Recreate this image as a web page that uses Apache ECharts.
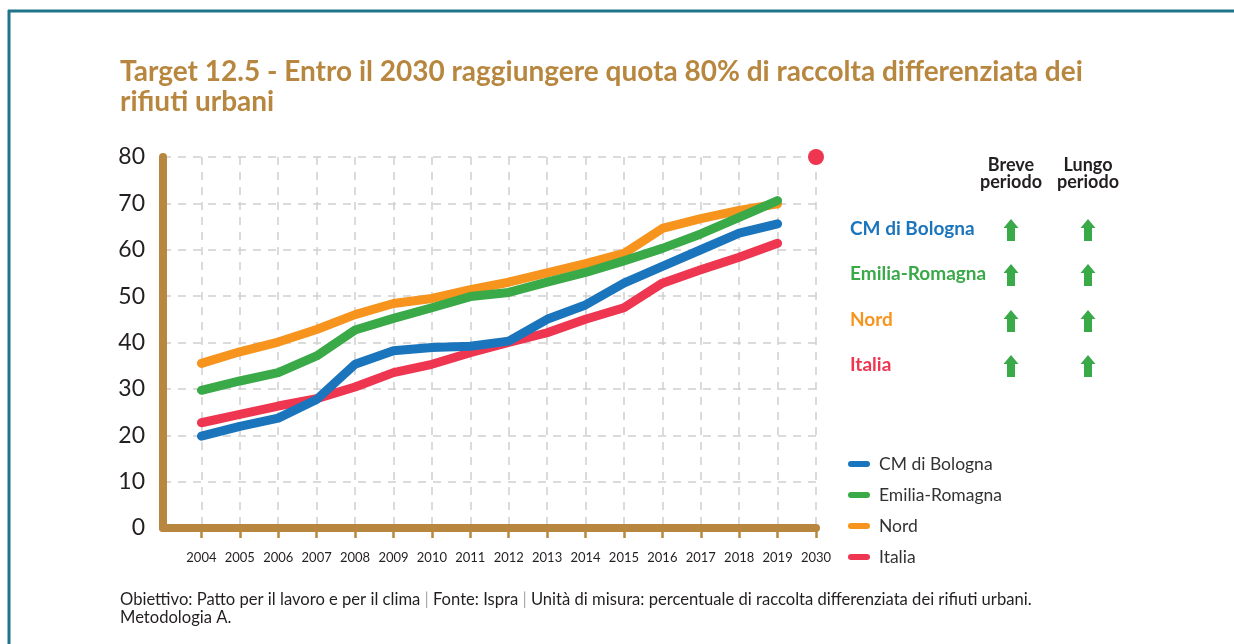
<!DOCTYPE html>
<html>
<head>
<meta charset="utf-8">
<script src="https://cdn.jsdelivr.net/npm/echarts@6/dist/echarts.min.js"></script>
<style>
html,body{margin:0;padding:0;background:#fff;}
#chart{width:1234px;height:644px;}
</style>
</head>
<body>
<div id="chart"></div>
<script>
// ---- data ----
const years = ['2004','2005','2006','2007','2008','2009','2010','2011','2012','2013','2014','2015','2016','2017','2018','2019','2030'];
const yTicks = [0,10,20,30,40,50,60,70,80];
const seriesNames = ['CM di Bologna','Emilia-Romagna','Nord','Italia'];
const bologna = [19.8,21.9,23.7,27.7,35.3,38.2,38.9,39.2,40.3,45.0,48.1,52.8,56.4,60.0,63.6,65.6];
const emilia  = [29.7,31.7,33.5,37.1,42.7,45.2,47.5,49.9,50.8,53.0,55.1,57.6,60.3,63.4,67.0,70.6];
const nord    = [35.5,38.0,40.1,42.8,46.0,48.4,49.5,51.4,53.0,55.0,57.0,59.2,64.6,66.7,68.5,69.9];
const italia  = [22.7,24.5,26.3,27.9,30.4,33.5,35.3,37.8,40.0,42.1,45.0,47.5,52.8,55.7,58.4,61.4];
const targetYear = '2030';
const targetValue = 80;
const shortTerm = ['up','up','up','up'];
const longTerm  = ['up','up','up','up'];
const titleText = 'Target 12.5 - Entro il 2030 raggiungere quota 80% di raccolta differenziata dei\nrifiuti urbani';
const footerParts = ['Obiettivo: Patto per il lavoro e per il clima ', ' Fonte: Ispra ', ' Unità di misura: percentuale di raccolta differenziata dei rifiuti urbani.'];
const footerLine2 = 'Metodologia A.';

// ---- styles ----
const colors = ['#1b75bc','#3aa948','#f7941d','#ee3650'];
const tan = '#b8873f';
const dark = '#231f20';
const FONT = 'Lato';

const cats = [''].concat(years);
function pad(arr){ const d=[null].concat(arr); while(d.length<cats.length) d.push(null); return d; }
const values = [bologna, emilia, nord, italia];
const lineSeries = [3,0,2,1].map(i => ({
  name: seriesNames[i], type:'line', data: pad(values[i]), showSymbol:false, symbol:'none',
  lineStyle:{color:colors[i], width:9, cap:'round', join:'round'},
  itemStyle:{color:colors[i]}, z: 3, silent:true
}));
const targetData = cats.map(c => c===targetYear ? targetValue : null);

const graphics = [];
// frame
graphics.push({type:'line', shape:{x1:8,y1:11,x2:1234,y2:11}, style:{stroke:'#1f7489', lineWidth:3}});
graphics.push({type:'line', shape:{x1:9,y1:10,x2:9,y2:644}, style:{stroke:'#1f7489', lineWidth:3}});
// table headers
graphics.push({type:'text', x:1011, y:157, style:{text:'Breve\nperiodo', font:'bold 18px '+FONT, fill:dark, align:'center', lineHeight:17}});
graphics.push({type:'text', x:1088, y:157, style:{text:'Lungo\nperiodo', font:'bold 18px '+FONT, fill:dark, align:'center', lineHeight:17}});
const rowY = [229,274,320,365];
function arrow(cx, cy){
  return {type:'polygon', shape:{points:[[cx,cy-11],[cx+7.5,cy-2],[cx+4,cy-2],[cx+4,cy+11],[cx-4,cy+11],[cx-4,cy-2],[cx-7.5,cy-2]]}, style:{fill:'#3aa948'}};
}
seriesNames.forEach((n,i) => {
  graphics.push({type:'text', x:850, y:rowY[i], style:{text:n, font:'bold 19px '+FONT, fill:colors[i], verticalAlign:'middle'}});
  if (shortTerm[i]==='up') graphics.push(arrow(1011, rowY[i]+1));
  if (longTerm[i]==='up') graphics.push(arrow(1088, rowY[i]+1));
});
// footer
graphics.push({type:'text', x:120, y:591, style:{
  text:'{t|'+footerParts[0]+'}{s||}{t|'+footerParts[1]+'}{s||}{t|'+footerParts[2]+'}\n{t|'+footerLine2+'}',
  rich:{t:{font:'16.6px '+FONT, fill:dark, lineHeight:18}, s:{font:'16.6px '+FONT, fill:'#aaaaaa', lineHeight:18}}
}});

const chart = echarts.init(document.getElementById('chart'), null, {renderer:'canvas'});
chart.setOption({
  backgroundColor:'#ffffff',
  animation:false,
  title:{text:titleText, left:120, top:57, padding:0, textStyle:{fontFamily:FONT, fontWeight:'bold', fontSize:28, lineHeight:30, color:'#b8873f'}},
  grid:{left:163, right:418, top:157, bottom:116, containLabel:false},
  legend:{
    data:seriesNames, orient:'vertical', left:848, top:455, padding:0, itemGap:13,
    itemWidth:22, itemHeight:6,
    icon:'path://M3,0 L19,0 A3,3 0 0 1 19,6 L3,6 A3,3 0 0 1 3,0 Z',
    textStyle:{fontFamily:FONT, fontSize:17.5, color:'#333', lineHeight:18, padding:[0,0,0,4]},
    selectedMode:false
  },
  xAxis:{
    type:'category', data:cats, boundaryGap:false,
    axisLine:{lineStyle:{color:tan, width:8, cap:'round'}},
    axisTick:{show:true, interval:(i)=>i>0, length:10, lineStyle:{color:tan, width:2.5}},
    axisLabel:{interval:(i)=>i>0, color:dark, fontFamily:FONT, fontSize:13, margin:23},
    splitLine:{show:true, interval:(i)=>i>0, lineStyle:{color:'#cfcfcf', width:1.5, type:[8,7]}}
  },
  yAxis:{
    type:'value', min:yTicks[0], max:yTicks[yTicks.length-1], interval:10,
    axisLine:{show:true, lineStyle:{color:tan, width:8, cap:'round'}},
    axisTick:{show:false},
    axisLabel:{color:dark, fontFamily:FONT, fontSize:23, margin:18},
    splitLine:{show:true, lineStyle:{color:'#cfcfcf', width:1.5, type:[8,7]}}
  },
  series: lineSeries.concat([{
    name:'Target', type:'scatter', data:targetData, symbolSize:16, itemStyle:{color:'#ee3650', opacity:1}, z:4, silent:true
  }]),
  graphic: graphics
});
</script>
</body>
</html>
